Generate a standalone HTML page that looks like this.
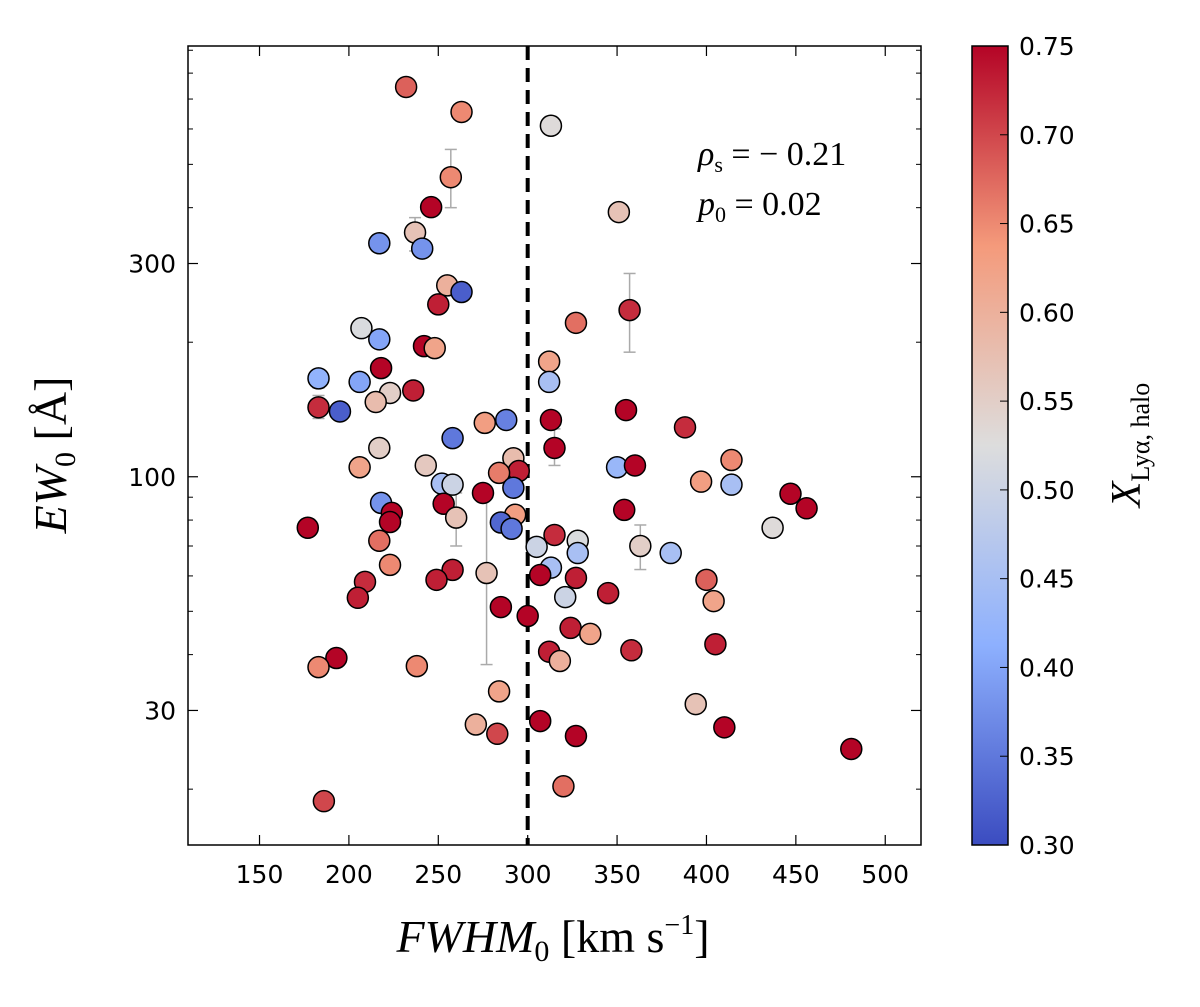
<!DOCTYPE html>
<html><head><meta charset="utf-8"><style>
body{margin:0;background:#fff}
svg text{font-family:"DejaVu Sans","Liberation Sans",sans-serif}
.ser{font-family:"Liberation Serif","DejaVu Serif",serif}
</style></head><body>
<svg id="chart" width="1200" height="1002" xmlns="http://www.w3.org/2000/svg">
<g id="plot"></g>
</svg>
<script>
const fwhm=[232,263,313,257,246,351,237,217,241,255,263,250,357,327,207,217,242,248,312,218,183,206,312,236,223,215,183,195,355,313,288,276,388,258,217,315,292,414,206,243,350,360,295,284,252,258,397,414,292,275,447,218,253,354,456,293,224,260,223,177,285,291,437,315,328,217,305,363,328,380,223,313,258,277,307,327,209,249,400,205,345,321,404,285,300,324,335,312,358,405,193,183,238,318,284,394,271,307,410,283,327,481,320,186];
const ew=[745,655,610,468,401,391,352,333,324,268,259,243,236,221,215,203,196,194,181,175,166,163,163,156,154,147,143,140,141,134,134,132,129,122,116,116,110,109,105,106,105,106,103,102,96.5,96,97.5,96,94.5,92,91.6,87.4,87,84.3,85,82.2,83,81,79.2,76.9,79,76.5,76.9,74.1,71.9,71.9,69.7,70,67.5,67.5,63.5,62.6,61.9,60.9,60.3,59.4,58.2,58.8,58.8,53.6,54.9,53.8,52.7,51.1,48.8,45.9,44.5,40.6,40.9,42.2,39.3,37.5,37.7,38.7,33.1,31,27.9,28.4,27.5,26.6,26.3,24.6,20.3,18.8];
const xhalo=[0.68,0.65,0.53,0.65,0.75,0.57,0.57,0.38,0.38,0.60,0.32,0.73,0.72,0.67,0.52,0.40,0.75,0.62,0.62,0.75,0.42,0.40,0.45,0.73,0.55,0.58,0.72,0.32,0.75,0.75,0.36,0.63,0.72,0.35,0.55,0.75,0.58,0.65,0.62,0.56,0.43,0.75,0.73,0.66,0.45,0.50,0.63,0.45,0.35,0.75,0.75,0.38,0.75,0.75,0.75,0.63,0.75,0.57,0.75,0.75,0.33,0.35,0.53,0.72,0.52,0.67,0.50,0.55,0.45,0.45,0.65,0.45,0.73,0.57,0.75,0.73,0.72,0.73,0.68,0.73,0.73,0.50,0.62,0.75,0.75,0.73,0.62,0.73,0.72,0.73,0.75,0.65,0.65,0.60,0.62,0.57,0.60,0.75,0.75,0.70,0.75,0.75,0.67,0.70];
const errIdx=[3,6,12,35,57,73,67,26,20,0,2];
const errLo=[400,320,190,106,70,38,62,135,158,720,590];
const errHi=[540,380,285,128,92,92,78,152,172,780,640];
const xTicks=[150,200,250,300,350,400,450,500];
const yTicks=[30,100,300];
const cTicks=[0.30,0.35,0.40,0.45,0.50,0.55,0.60,0.65,0.70,0.75];

const L=188,R=921,T=46,B=845;
const xs=v=>L+(v-110)/(520-110)*(R-L);
const lmin=Math.log10(15),lmax=Math.log10(920);
const ys=v=>B-(Math.log10(v)-lmin)/(lmax-lmin)*(B-T);
const stops=[[59,76,192],[141,176,254],[221,221,221],[244,154,123],[180,4,38]];
function cmap(v){let t=Math.max(0,Math.min(1,(v-0.3)/0.45))*4;let i=Math.min(3,Math.floor(t));let f=t-i;
const a=stops[i],b=stops[i+1];return `rgb(${a.map((c,k)=>Math.round(c+(b[k]-c)*f)).join(',')})`;}
const NS='http://www.w3.org/2000/svg';
const svg=document.getElementById('chart');
function mk(tag,attrs,parent){const e=document.createElementNS(NS,tag);for(const k in attrs)e.setAttribute(k,attrs[k]);(parent||svg).appendChild(e);return e;}

let dl=mk('line',{x1:xs(300),x2:xs(300),y1:T,y2:B,stroke:'#000','stroke-width':4,'stroke-dasharray':'14,8'});


errIdx.forEach((idx,j)=>{const x=xs(fwhm[idx]);
 const g=mk('g',{stroke:'#aaa','stroke-width':1.5});
 
 
 mk('line',{x1:x,x2:x,y1:ys(errLo[j]),y2:ys(errHi[j])},g);
 mk('line',{x1:x-6,x2:x+6,y1:ys(errLo[j]),y2:ys(errLo[j])},g);
 mk('line',{x1:x-6,x2:x+6,y1:ys(errHi[j]),y2:ys(errHi[j])},g);});
fwhm.forEach((f,i)=>{const c=mk('circle',{cx:xs(f),cy:ys(ew[i]),r:10.5,fill:cmap(xhalo[i]),stroke:'#000','stroke-width':1.5});
 
 });
let fr=mk('rect',{x:L,y:T,width:R-L,height:B-T,fill:'none',stroke:'#000','stroke-width':1.5});


xTicks.forEach(v=>{const x=xs(v);mk('line',{x1:x,x2:x,y1:B,y2:B-10,stroke:'#000','stroke-width':1.2});mk('line',{x1:x,x2:x,y1:T,y2:T+10,stroke:'#000','stroke-width':1.2});
 const t=mk('text',{x:x,y:B+38,'text-anchor':'middle','font-size':25});t.textContent=v;
 
 });
yTicks.forEach(v=>{const y=ys(v);mk('line',{x1:L,x2:L+10,y1:y,y2:y,stroke:'#000','stroke-width':1.2});mk('line',{x1:R,x2:R-10,y1:y,y2:y,stroke:'#000','stroke-width':1.2});
 const t=mk('text',{x:L-12,y:y+9,'text-anchor':'end','font-size':25});t.textContent=v;
 
 });
[20,40,50,60,70,80,90,200,400,500,600,700,800,900].forEach(v=>{const y=ys(v);mk('line',{x1:L,x2:L+5,y1:y,y2:y,stroke:'#000'});mk('line',{x1:R,x2:R-5,y1:y,y2:y,stroke:'#000'});});
const defs=mk('defs',{});const lg=mk('linearGradient',{id:'cg',x1:0,y1:1,x2:0,y2:0},defs);
stops.forEach((s,i)=>mk('stop',{offset:i/4,'stop-color':`rgb(${s.join(',')})`},lg));
let cb=mk('rect',{x:972,y:T,width:36,height:B-T,fill:'url(#cg)',stroke:'#000','stroke-width':1.5});


cTicks.forEach(v=>{const y=B-(v-0.3)/0.45*(B-T);mk('line',{x1:1000,x2:1008,y1:y,y2:y,stroke:'#000'});
 const t=mk('text',{x:1019,y:y+9,'font-size':25});t.textContent=v.toFixed(2);
 
 });
</script>
<svg style="position:absolute;left:0;top:0" width="1200" height="1002" xmlns="http://www.w3.org/2000/svg">
<text class="ser" x="698" y="165" font-size="34" font-style="italic">ρ<tspan font-size="22" font-style="normal" dy="7">s</tspan><tspan dy="-7" font-style="normal"> =  − 0.21</tspan></text>
<text class="ser" x="698" y="215" font-size="34" font-style="italic">p<tspan font-size="22" font-style="normal" dy="7">0</tspan><tspan dy="-7" font-style="normal"> = 0.02</tspan></text>
<text class="ser" x="553" y="952" font-size="46" text-anchor="middle"><tspan font-style="italic">FWHM</tspan><tspan font-size="30" dy="9">0</tspan><tspan dy="-9"> [km s</tspan><tspan font-size="28" dy="-18">−1</tspan><tspan dy="18">]</tspan></text>
<text class="ser" transform="translate(66,455) rotate(-90)" font-size="46" text-anchor="middle"><tspan font-style="italic">EW</tspan><tspan font-size="30" dy="9">0</tspan><tspan dy="-9"> [Å]</tspan></text>
<text class="ser" transform="translate(1140,445) rotate(-90)" font-size="42" text-anchor="middle"><tspan font-style="italic">X</tspan><tspan font-size="26" dy="9">Lyα, halo</tspan></text>
</svg>
</body></html>
